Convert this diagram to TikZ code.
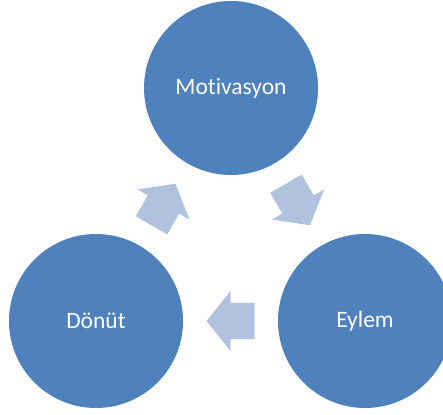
\documentclass[tikz,border=0pt]{standalone}
\usepackage{fontspec}
\setmainfont{Carlito}[Ligatures={NoCommon,NoDiscretionary,NoContextual}]
\usetikzlibrary{calc}
\definecolor{circ}{HTML}{4F81BD}
\definecolor{arr}{HTML}{B0C2DE}
\tikzset{
  stage/.style={circle, fill=circ, draw=none, minimum size=174pt, inner sep=0pt,
    text=white, font=\fontsize{23.5pt}{28pt}\selectfont},
  blockarrow/.style={fill=arr, draw=none},
  cyclearrow/.pic={\fill[blockarrow] (24,0) -- (0,30) -- (0,18.2) -- (-24,18.2) -- (-24,-18.2) -- (0,-18.2) -- (0,-30) -- cycle;}
}
\begin{document}
\begin{tikzpicture}[x=1pt,y=1pt]
\useasboundingbox (0,0) rectangle (443,414);
\clip (0,0) rectangle (443,414);
\node[stage] (T) at (231,326) {Motivasyon};
\node[stage] (R) at (365,93) {Eylem};
\node[stage] (L) at (96,93) {Dönüt};
\pic[rotate=-60] at ($(T)!0.5!(R)$) {cyclearrow};
\pic[rotate=180] at ($(R)!0.5!(L)$) {cyclearrow};
\pic[rotate=60] at ($(L)!0.5!(T)$) {cyclearrow};
\end{tikzpicture}
\end{document}
